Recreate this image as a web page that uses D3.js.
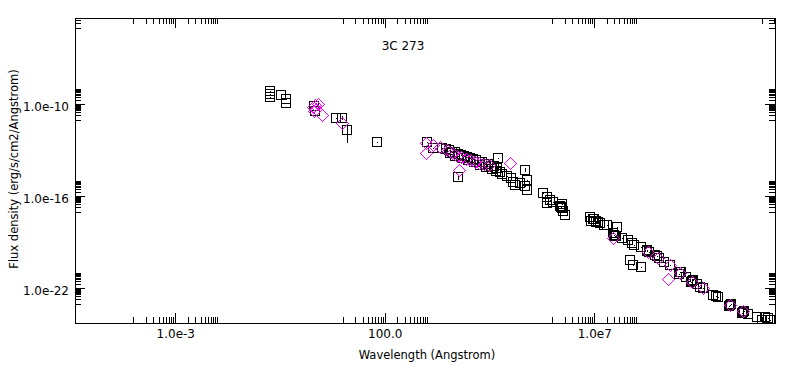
<!DOCTYPE html>
<html><head><meta charset="utf-8">
<script src="https://cdn.jsdelivr.net/npm/d3@7"></script>
<style>
body{margin:0;background:#fff}
svg{display:block}
text{font-family:"DejaVu Sans",sans-serif;fill:#000}
</style>
</head><body>
<svg id="c" width="791" height="365"></svg>
<script>
// ---- text ----
const title = "3C 273";
const xLabel = "Wavelength (Angstrom)";
const yLabel = "Flux density (erg/s/cm2/Angstrom)";
// ---- ticks ----
const xMajorTicks = [1e-3, 1e2, 1e7, 1e12];
const xTickLabels = ["1.0e-3", "100.0", "1.0e7", "1.0e12"];
const yMajorTicks = [1e-22, 1e-16, 1e-10, 1e-4];
const yTickLabels = ["1.0e-22", "1.0e-16", "1.0e-10", "1.0e-4"];
// ---- series 1: black squares ----
const sqWave = [0.182,0.182,0.182,0.333,0.438,0.438,2.04,2.16,6.84,9.5,12.5,65.1,
 1016,1414,2317,2890,3410,4020,4730,5580,6590,7770,9160,10800,12700,15000,17700,20900,24600,29000,34300,40400,47600,
 5580,3600,4730,6950,9680,13500,18700,26000,36200,45100,56100,50300,62700,82500,1.03e5,1.15e5,1.28e5,1.69e5,2.22e5,2.22e5,2.48e5,2.48e5,
 5.97e5,7.44e5,8.77e5,1.03e6,7.44e5,1.60e6,1.52e6,1.69e6,1.79e6,2.0e6,1.69e6,
 7.89e6,8.34e6,9.31e6,9.8e6,1.10e7,1.1e7,1.23e7,1.37e7,1.71e7,2.01e7,3.48e7,2.79e7,2.95e7,3.12e7,3.3e7,4.58e7,6.37e7,7.94e7,8.86e7,
 1.30e8,1.81e8,1.81e8,2.01e8,2.81e8,3.1e8,3.5e8,7.11e7,8.39e7,1.30e8,4.61e8,6.41e8,1.11e9,1.17e9,1.05e9,1.55e9,2.15e9,2.27e9,2.03e9,
 2.83e9,3.33e9,3.93e9,6.81e9,8.04e9,8.96e9,1.73e10,1.82e10,1.64e10,3.54e10,3.74e10,3.35e10,4.66e10,7.64e10,1.00e11,1.19e11,1.40e11,1.56e11];
const sqFlux = [7.4e-10,4.7e-10,3.0e-10,4.0e-10,2.2e-10,1.2e-10,7.7e-11,3.7e-11,1.28e-11,1.28e-11,2.1e-12,3.5e-13,
 3.5e-13,1.4e-13,1.4e-13,1.21e-13,1.05e-13,7.8e-14,7.8e-14,5.8e-14,4.9e-14,4.3e-14,3.6e-14,3.2e-14,2.7e-14,2.3e-14,1.7e-14,1.7e-14,1.3e-14,1.3e-14,9.4e-15,9.4e-15,7.0e-15,
 1.8e-15,6.7e-14,4.3e-14,3.2e-14,2.3e-14,1.7e-14,1.1e-14,8.1e-15,6.0e-15,4.4e-15,3.8e-15,3.2e-14,2.8e-15,2.1e-15,1.5e-15,8.5e-16,5.4e-16,7.3e-16,5.2e-15,4.7e-16,2.6e-16,1.1e-15,
 1.64e-16,9.0e-17,5.7e-17,4.2e-17,3.6e-17,2.0e-17,2.3e-17,1.7e-17,1.1e-17,6.0e-18,3.1e-17,
 4.4e-18,2.4e-18,3.3e-18,3.3e-18,2.1e-18,2.4e-18,2.1e-18,1.8e-18,1.3e-18,1.3e-18,1.0e-18,4.0e-19,3.2e-19,2.6e-19,2.6e-19,1.9e-19,1.4e-19,9.0e-20,6.6e-20,
 4.9e-20,3.2e-20,2.7e-20,2.3e-20,1.5e-20,1.2e-20,9.3e-21,7.0e-21,3.3e-21,2.4e-21,5.2e-21,3.3e-21,1.15e-21,1.15e-21,8.5e-22,5.4e-22,3.0e-22,3.5e-22,2.6e-22,
 1.9e-22,1.2e-22,1.04e-22,3.6e-23,3.1e-23,2.7e-23,8.1e-24,9.5e-24,7.0e-24,2.8e-24,3.3e-24,2.4e-24,2.1e-24,1.33e-24,8.6e-25,1.33e-24,1.1e-24,8.6e-25];
// ---- error bars on some squares ----
const errWave = [12.5, 9.5, 5580, 2.22e5];
const errLo = [3.0e-13, 9.0e-12, 1.2e-15, 3.8e-15];
const errHi = [4.5e-12, 1.8e-11, 2.6e-15, 7.0e-15];
// ---- series 2: magenta diamonds ----
const dmWave = [1.93,2.16,2.28,2.55,2.04,3.17,9.5,
 962,962,1414,2076,3050,4020,5290,6590,8670,10800,14200,17700,23300,30700,5900,97300,
 2.79e7,1.91e8,3.31e8,6.41e8,5.74e8,1.11e9,2.15e9,3.93e9,1.73e10,3.54e10];
const dmFlux = [6.7e-11,9.0e-11,4.9e-11,1.05e-10,3.7e-11,2.0e-11,6.0e-12,
 3.2e-13,6.7e-14,2.2e-13,1.64e-13,1.05e-13,6.7e-14,4.3e-14,3.6e-14,2.7e-14,2.3e-14,1.7e-14,1.48e-14,1.3e-14,1.1e-14,5.2e-15,1.48e-14,
 1.9e-19,2.3e-20,9.3e-21,3.3e-21,4.0e-22,9.9e-22,2.6e-22,1.04e-22,8.1e-24,3.3e-24];

// ---- layout ----
const L = 75, R = 775, T = 18, B = 323;
const svg = d3.select("#c");
const x = d3.scaleLog().domain([4.04e-6, 2.06e11]).range([L, R]);
const y = d3.scaleLog().domain([5.42e-25, 4.26e-5]).range([B, T]);

function minorTicks(majors, scale) {
  const [a, b] = scale.domain();
  const out = [];
  majors.forEach(m => {
    for (let k = 1; k <= 9; k++) out.push(k * m / 10);
    for (let k = 2; k <= 10; k++) out.push(k * m);
  });
  return out.filter(v => v >= a && v <= b);
}
const inX = v => v >= x.domain()[0] && v <= x.domain()[1];
const inY = v => v >= y.domain()[0] && v <= y.domain()[1];
const xMin = minorTicks(xMajorTicks, x), yMin = minorTicks(yMajorTicks, y);
const xMaj = xMajorTicks.filter(inX), yMaj = yMajorTicks.filter(inY);
const xLab = new Map(xMajorTicks.map((v, i) => [v, xTickLabels[i]]));
const yLab = new Map(yMajorTicks.map((v, i) => [v, yTickLabels[i]]));

function style(g) {
  g.select(".domain").remove();
  g.attr("font-family", null).attr("font-size", null);
  g.selectAll("line").attr("shape-rendering", "crispEdges");
}
const MIN = 6, MAJ = 10;
// bottom
svg.append("g").attr("transform", `translate(0,${B})`)
  .call(d3.axisBottom(x).tickValues(xMin).tickSize(-MIN).tickFormat("")).call(style);
svg.append("g").attr("transform", `translate(0,${B})`)
  .call(d3.axisBottom(x).tickValues(xMaj).tickSize(-MAJ).tickPadding(6).tickFormat(d => xLab.get(d))).call(style)
  .selectAll("text").attr("font-size", 12);
// top
svg.append("g").attr("transform", `translate(0,${T})`)
  .call(d3.axisTop(x).tickValues(xMin).tickSize(-MIN).tickFormat("")).call(style);
svg.append("g").attr("transform", `translate(0,${T})`)
  .call(d3.axisTop(x).tickValues(xMaj).tickSize(-MAJ).tickFormat("")).call(style);
// left
svg.append("g").attr("transform", `translate(${L},0)`)
  .call(d3.axisLeft(y).tickValues(yMin).tickSize(-MIN).tickFormat("")).call(style);
svg.append("g").attr("transform", `translate(${L},0)`)
  .call(d3.axisLeft(y).tickValues(yMaj).tickSize(-MAJ).tickPadding(6).tickFormat(d => yLab.get(d))).call(style)
  .selectAll("text").attr("font-size", 12).attr("dy", "0.53em");
// right
svg.append("g").attr("transform", `translate(${R},0)`)
  .call(d3.axisRight(y).tickValues(yMin).tickSize(-MIN).tickFormat("")).call(style);
svg.append("g").attr("transform", `translate(${R},0)`)
  .call(d3.axisRight(y).tickValues(yMaj).tickSize(-MAJ).tickFormat("")).call(style);

// frame
svg.append("rect").attr("x", L + 0.5).attr("y", T + 0.5).attr("width", R - L).attr("height", B - T)
  .attr("fill", "none").attr("stroke", "#000").attr("shape-rendering", "crispEdges");

// clip
svg.append("clipPath").attr("id", "clip").append("rect")
  .attr("x", L + 1).attr("y", T + 1).attr("width", R - L - 1).attr("height", B - T - 1);
const plot = svg.append("g").attr("clip-path", "url(#clip)");

// error bars
plot.selectAll(".err").data(d3.range(errWave.length)).join("line")
  .attr("x1", i => Math.round(x(errWave[i])) + 0.5).attr("x2", i => Math.round(x(errWave[i])) + 0.5)
  .attr("y1", i => Math.round(y(errLo[i]))).attr("y2", i => Math.round(y(errHi[i])))
  .attr("stroke", "#000").attr("shape-rendering", "crispEdges");

// squares
const sq = d3.zip(sqWave, sqFlux);
plot.selectAll(".sq").data(sq).join("rect")
  .attr("x", d => Math.round(x(d[0])) - 4.5).attr("y", d => Math.round(y(d[1])) - 4.5)
  .attr("width", 9).attr("height", 9)
  .attr("fill", "none").attr("stroke", "#000").attr("shape-rendering", "crispEdges");
plot.selectAll(".dot").data(sq).join("rect")
  .attr("x", d => Math.round(x(d[0]))).attr("y", d => Math.round(y(d[1])))
  .attr("width", 1).attr("height", 1).attr("fill", "#000");

// diamonds
const dm = d3.zip(dmWave, dmFlux);
plot.selectAll(".dm").data(dm).join("path")
  .attr("d", d => {
    const cx = Math.round(x(d[0])) + 0.5, cy = Math.round(y(d[1])) + 0.5, r = 6;
    return `M${cx},${cy - r}L${cx + r},${cy}L${cx},${cy + r}L${cx - r},${cy}Z`;
  })
  .attr("fill", "none").attr("stroke", "#ff00ff").attr("stroke-width", 1)
  .attr("shape-rendering", "crispEdges");

// titles
svg.append("text").attr("x", 403).attr("y", 50).attr("text-anchor", "middle")
  .attr("font-size", 12).text(title);
svg.append("text").attr("x", 427).attr("y", 359).attr("text-anchor", "middle")
  .attr("font-size", 11.5).text(xLabel);
svg.append("text").attr("transform", "translate(18,169) rotate(-90)").attr("text-anchor", "middle")
  .attr("font-size", 11.5).text(yLabel);
</script>
</body></html>
